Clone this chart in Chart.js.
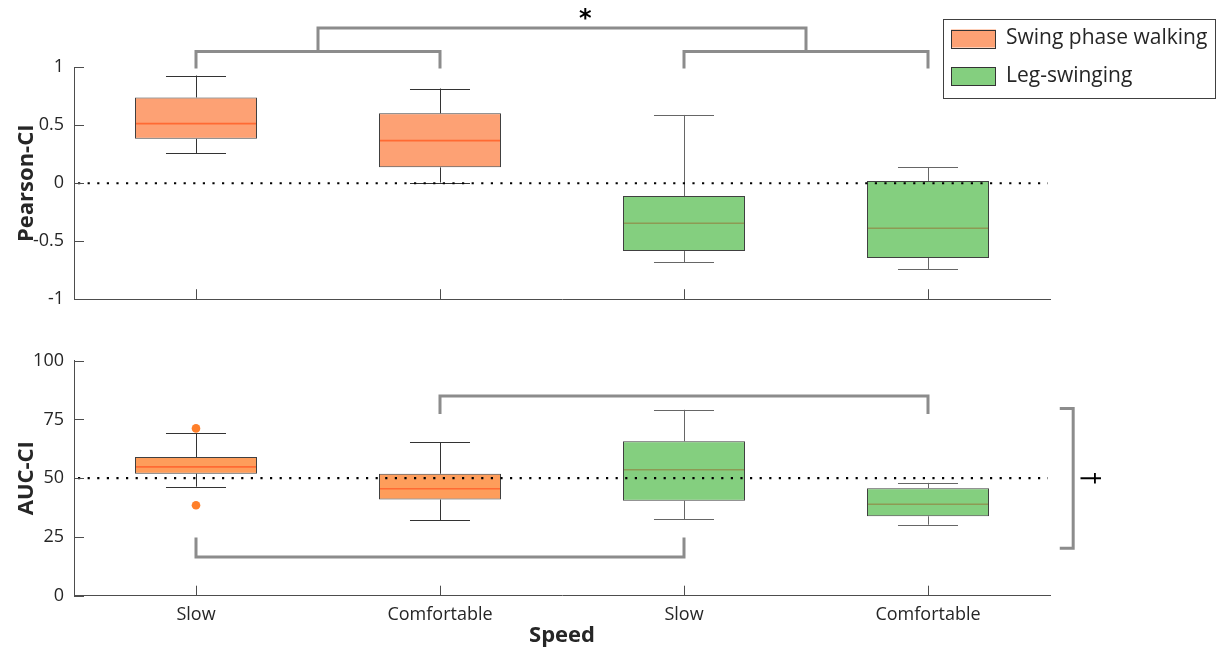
<!DOCTYPE html>
<html>
<head>
<meta charset="utf-8">
<script src="https://cdn.jsdelivr.net/npm/chart.js@4.4.1/dist/chart.umd.min.js"></script>
<style>
  body { margin: 0; background: #ffffff; }
  canvas { position: absolute; left: 0; }
</style>
</head>
<body>
<canvas id="topChart" width="1217" height="320" style="top:0px"></canvas>
<canvas id="botChart" width="1217" height="331" style="top:320px"></canvas>
<script>
// ---------------- DATA ----------------
const categories = ['Slow', 'Comfortable', 'Slow', 'Comfortable'];
const groups = ['Swing phase walking', 'Swing phase walking', 'Leg-swinging', 'Leg-swinging'];
const seriesNames = ['Swing phase walking', 'Leg-swinging'];

// Pearson-CI (top panel)
const pearsonLow    = [0.26, 0.006, -0.682, -0.742];
const pearsonQ1     = [0.383, 0.137, -0.585, -0.645];
const pearsonMedian = [0.514, 0.368, -0.345, -0.388];
const pearsonQ3     = [0.740, 0.603, -0.111, 0.02];
const pearsonHigh   = [0.929, 0.817, 0.589, 0.137];
const pearsonOutliers = [[], [], [], []];
const pearsonTicks = [-1, -0.5, 0, 0.5, 1];

// AUC-CI (bottom panel)
const aucLow    = [46.4, 32.1, 32.6, 30.2];
const aucQ1     = [51.9, 40.9, 40.4, 33.8];
const aucMedian = [54.8, 45.5, 53.6, 38.9];
const aucQ3     = [59.0, 51.9, 65.7, 45.7];
const aucHigh   = [69.2, 65.3, 79.1, 48.0];
const aucOutliers = [[71.2, 38.5], [], [], []];
const aucTicks = [0, 25, 50, 75, 100];

// significance annotations (category-index units / data units)
const pearsonBrackets = [
  { x1: 0, x2: 1, y: 1.137, yEnd: 0.99 },
  { x1: 2, x2: 3, y: 1.137, yEnd: 0.99 },
  { x1: 0.5, x2: 2.5, y: 1.34, yEnd: 1.137 }
];
const pearsonMarks = [{ text: '*', x: 1.595, y: 1.41, rot: 0, font: 'bold 24px DejaVu Sans' }];
const aucBrackets = [
  { x1: 1, x2: 3, y: 85, yEnd: 77.3 },
  { x1: 0, x2: 2, y: 16.5, yEnd: 24.8 }
];
const aucVBrackets = [{ x: 3.595, xEnd: 3.54, y1: 20.2, y2: 79.7 }];
const aucMarks = [{ text: '\u2020', x: 3.66, y: 50, rot: Math.PI / 2, font: '24px DejaVu Sans' }];

// ---------------- STYLES ----------------
const FONT = "'Open Sans', 'Noto Sans', sans-serif";
const TEXT = '#262626';
const AXIS = '#4d4d4d';
const BRACKET = '#8c8c8c';
const seriesStyles = [
  { fillTop: '#FDA174', fillBot: '#FE9D5B', median: '#FF6A33', whisker: '#333333', border: '#404040' },
  { fillTop: '#84CF7F', fillBot: '#84CF7F', median: '#8D9A54', whisker: '#666666', border: '#404040' }
];

Chart.defaults.font.family = FONT;
Chart.defaults.color = TEXT;

const crisp = v => Math.round(v) + 0.5;

const extrasPlugin = {
  id: 'boxExtras',
  afterDatasetsDraw(chart, args, o) {
    const ctx = chart.ctx, xs = chart.scales.x, ys = chart.scales.y;
    const X = v => xs.getPixelForValue(v), Y = v => ys.getPixelForValue(v);
    ctx.save();
    // whiskers, medians, outliers
    categories.forEach((c, i) => {
      const st = seriesStyles[seriesNames.indexOf(groups[i])];
      const x = X(i);
      const hw = X(i + 0.25) - x;
      const cw = X(i + 0.123) - x;
      ctx.strokeStyle = st.whisker; ctx.lineWidth = 1;
      ctx.beginPath();
      ctx.moveTo(crisp(x), Y(o.q3[i])); ctx.lineTo(crisp(x), Y(o.high[i]));
      ctx.moveTo(x - cw, crisp(Y(o.high[i]))); ctx.lineTo(x + cw, crisp(Y(o.high[i])));
      ctx.moveTo(crisp(x), Y(o.q1[i])); ctx.lineTo(crisp(x), Y(o.low[i]));
      ctx.moveTo(x - cw, crisp(Y(o.low[i]))); ctx.lineTo(x + cw, crisp(Y(o.low[i])));
      ctx.stroke();
      ctx.strokeStyle = st.median; ctx.lineWidth = 1.6;
      ctx.beginPath();
      ctx.moveTo(x - hw + 1, Y(o.med[i])); ctx.lineTo(x + hw - 1, Y(o.med[i]));
      ctx.stroke();
      ctx.fillStyle = '#FF7F2A';
      (o.outliers[i] || []).forEach(v => {
        ctx.beginPath(); ctx.arc(x, Y(v), 4.3, 0, Math.PI * 2); ctx.fill();
      });
    });
    // dotted reference line
    ctx.strokeStyle = '#000000'; ctx.lineWidth = 2.2;
    ctx.setLineDash([2.2, 7.4]);
    ctx.beginPath();
    ctx.moveTo(xs.left + 4, Y(o.refLine)); ctx.lineTo(xs.right - 2, Y(o.refLine));
    ctx.stroke();
    ctx.setLineDash([]);
    // inward tick marks
    ctx.strokeStyle = AXIS; ctx.lineWidth = 1;
    ctx.beginPath();
    o.yTicks.forEach(t => {
      const y = crisp(Y(t));
      ctx.moveTo(xs.left, y); ctx.lineTo(xs.left + 10, y);
    });
    categories.forEach((c, i) => {
      const x = crisp(X(i));
      ctx.moveTo(x, ys.bottom); ctx.lineTo(x, ys.bottom - 10);
    });
    ctx.stroke();
    // brackets
    ctx.strokeStyle = BRACKET; ctx.lineWidth = 3; ctx.lineJoin = 'miter';
    (o.brackets || []).forEach(b => {
      ctx.beginPath();
      ctx.moveTo(X(b.x1), Y(b.yEnd)); ctx.lineTo(X(b.x1), Y(b.y));
      ctx.lineTo(X(b.x2), Y(b.y)); ctx.lineTo(X(b.x2), Y(b.yEnd));
      ctx.stroke();
    });
    (o.vBrackets || []).forEach(b => {
      ctx.beginPath();
      ctx.moveTo(X(b.xEnd), Y(b.y2)); ctx.lineTo(X(b.x), Y(b.y2));
      ctx.lineTo(X(b.x), Y(b.y1)); ctx.lineTo(X(b.xEnd), Y(b.y1));
      ctx.stroke();
    });
    ctx.fillStyle = '#000000';
    ctx.textAlign = 'center'; ctx.textBaseline = 'middle';
    (o.marks || []).forEach(m => {
      ctx.save();
      ctx.font = m.font;
      ctx.translate(X(m.x), Y(m.y));
      ctx.rotate(m.rot);
      ctx.fillText(m.text, 0, 0);
      ctx.restore();
    });
    // legend (top panel only)
    if (o.legend) {
      ctx.fillStyle = '#ffffff';
      ctx.fillRect(943, 19, 273, 79);
      ctx.strokeStyle = '#404040'; ctx.lineWidth = 1;
      ctx.strokeRect(943.5, 19.5, 272, 79);
      ctx.font = '21px ' + FONT;
      ctx.textAlign = 'left'; ctx.textBaseline = 'middle';
      chart.data.datasets.forEach((ds, k) => {
        const cy = 38.5 + k * 37.5;
        ctx.fillStyle = ds.backgroundColor;
        ctx.fillRect(951, cy - 9, 45, 18);
        ctx.strokeStyle = '#333333';
        ctx.strokeRect(951.5, Math.round(cy - 9) + 0.5, 44, 18);
        ctx.fillStyle = TEXT;
        ctx.fillText(ds.label, 1006, cy);
      });
    }
    ctx.restore();
  }
};

function makeDatasets(q1, q3, fillKey) {
  return seriesNames.map((name, s) => ({
    type: 'bar',
    label: name,
    data: categories.map((c, i) => groups[i] === name ? [q1[i], q3[i]] : null),
    backgroundColor: seriesStyles[s][fillKey],
    borderColor: seriesStyles[s].border,
    borderWidth: 1,
    borderSkipped: false,
    grouped: false,
    barPercentage: 0.5,
    categoryPercentage: 1
  }));
}

function makeChart(id, cfg) {
  return new Chart(document.getElementById(id), {
    type: 'bar',
    data: { labels: categories, datasets: makeDatasets(cfg.q1, cfg.q3, cfg.fillKey) },
    plugins: [extrasPlugin],
    options: {
      responsive: false,
      animation: false,
      devicePixelRatio: 1,
      layout: { padding: { top: cfg.padTop, right: 167, bottom: 0, left: 0 } },
      plugins: {
        legend: { display: false },
        tooltip: { enabled: false },
        boxExtras: {
          low: cfg.low, q1: cfg.q1, med: cfg.med, q3: cfg.q3, high: cfg.high,
          outliers: cfg.outliers, refLine: cfg.refLine, yTicks: cfg.yTicks,
          brackets: cfg.brackets, vBrackets: cfg.vBrackets, marks: cfg.marks, legend: cfg.legend
        }
      },
      scales: {
        x: {
          type: 'category',
          offset: true,
          grid: { display: false, drawTicks: false },
          border: { display: true, color: AXIS, width: 1 },
          ticks: { display: cfg.showX, padding: 8, color: TEXT, font: { size: 18, family: FONT }, maxRotation: 0, autoSkip: false },
          title: { display: cfg.showX, text: 'Speed', color: TEXT, font: { size: 22, weight: 'bold', family: FONT }, padding: { top: 0, bottom: 2 } },
          afterFit: s => { s.height = cfg.xHeight; }
        },
        y: {
          min: cfg.yTicks[0], max: cfg.yTicks[cfg.yTicks.length - 1],
          grid: { display: false, drawTicks: false },
          border: { display: true, color: AXIS, width: 1 },
          afterBuildTicks: s => { s.ticks = cfg.yTicks.map(v => ({ value: v })); },
          ticks: { padding: 10, color: TEXT, font: { size: 18, family: FONT }, callback: v => String(v) },
          title: { display: true, text: cfg.yTitle, color: TEXT, font: { size: 22, weight: 'bold', family: FONT }, padding: { top: 14, bottom: 0 } },
          afterFit: s => { s.width = 74; }
        }
      }
    }
  });
}

makeChart('topChart', {
  q1: pearsonQ1, q3: pearsonQ3, low: pearsonLow, high: pearsonHigh, med: pearsonMedian,
  outliers: pearsonOutliers, refLine: 0, yTicks: pearsonTicks, yTitle: 'Pearson-CI',
  brackets: pearsonBrackets, vBrackets: [], marks: pearsonMarks, legend: true,
  fillKey: 'fillTop', padTop: 67.3, xHeight: 19, showX: false
});

makeChart('botChart', {
  q1: aucQ1, q3: aucQ3, low: aucLow, high: aucHigh, med: aucMedian,
  outliers: aucOutliers, refLine: 50, yTicks: aucTicks, yTitle: 'AUC-CI',
  brackets: aucBrackets, vBrackets: aucVBrackets, marks: aucMarks, legend: false,
  fillKey: 'fillBot', padTop: 40.7, xHeight: 55.3, showX: true
});
</script>
</body>
</html>
